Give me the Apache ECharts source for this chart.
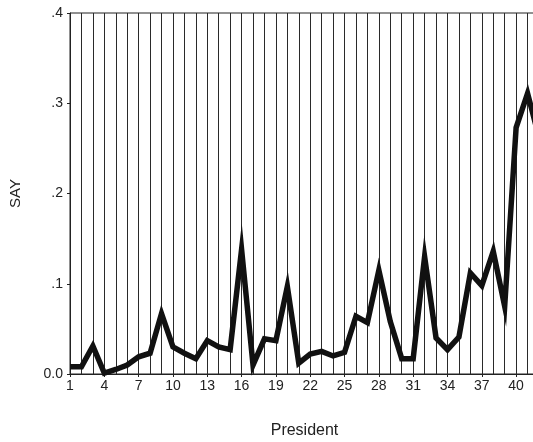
<!DOCTYPE html>
<html>
<head>
<meta charset="utf-8">
<script src="https://cdn.jsdelivr.net/npm/echarts@6/dist/echarts.min.js"></script>
<style>html,body{margin:0;padding:0;background:#fff;}#c{width:533px;height:442px;}</style>
</head>
<body>
<div id="c"></div>
<script>
const presidents = Array.from({length: 42}, (_, i) => String(i + 1));
const say = [0.008, 0.008, 0.031, 0.001, 0.005, 0.010, 0.019, 0.023, 0.067, 0.030,
             0.023, 0.017, 0.037, 0.030, 0.027, 0.138, 0.010, 0.039, 0.037, 0.097,
             0.012, 0.022, 0.025, 0.020, 0.024, 0.064, 0.057, 0.115, 0.058, 0.017,
             0.017, 0.130, 0.040, 0.027, 0.041, 0.112, 0.098, 0.136, 0.075, 0.273,
             0.311, 0.262];
const yTicks = ['0.0', '.1', '.2', '.3', '.4'];

const chart = echarts.init(document.getElementById('c'), null, {renderer: 'canvas'});
chart.setOption({
  animation: false,
  backgroundColor: '#fff',
  grid: {left: 70, top: 13, width: 469, bottom: 68, show: true, borderColor: '#222', borderWidth: 1,
         containLabel: false, outerBoundsMode: 'none'},
  xAxis: {
    type: 'category',
    data: presidents,
    boundaryGap: false,
    name: 'President',
    nameLocation: 'middle',
    nameGap: 49,
    nameTextStyle: {fontFamily: 'Liberation Sans', fontSize: 16, color: '#222'},
    axisLine: {lineStyle: {color: '#222', width: 1}},
    axisTick: {show: true, interval: 2, length: 3, lineStyle: {color: '#222'}},
    axisLabel: {interval: 2, fontFamily: 'Liberation Sans', fontSize: 14, color: '#222', margin: 5},
    splitLine: {show: true, interval: 0, lineStyle: {color: '#2a2a2a', width: 1}}
  },
  yAxis: {
    type: 'value',
    min: 0, max: 0.4, interval: 0.1,
    name: 'SAY',
    nameLocation: 'middle',
    nameGap: 47,
    nameTextStyle: {fontFamily: 'Liberation Sans', fontSize: 15, color: '#222'},
    axisLine: {show: true, lineStyle: {color: '#222', width: 1}},
    axisTick: {show: true, length: 3, lineStyle: {color: '#222'}},
    axisLabel: {fontFamily: 'Liberation Sans', fontSize: 14, color: '#222', margin: 7,
      formatter: (v) => yTicks[Math.round(v * 10)]},
    splitLine: {show: false}
  },
  series: [{
    type: 'line',
    data: say,
    symbol: 'none',
    lineStyle: {color: '#111', width: 5.5, join: 'miter'},
    clip: true
  }]
});
</script>
</body>
</html>
